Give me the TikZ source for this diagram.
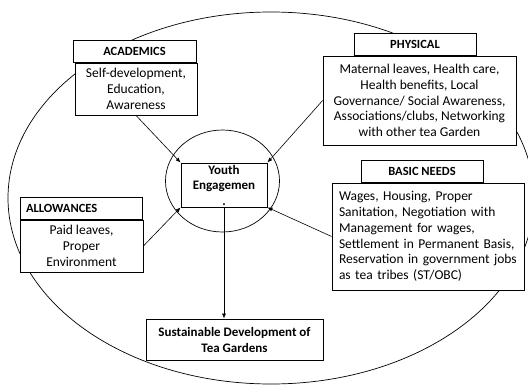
\documentclass[tikz,border=0pt]{standalone}
\usepackage{fontspec}
\setmainfont{Carlito}
\usetikzlibrary{arrows.meta}

\begin{document}
\begin{tikzpicture}[x=1pt, y=-1pt, >={Latex[length=5pt,width=4pt]},
  font=\fontsize{13.5}{15.8}\selectfont,
  headbox/.style={draw, fill=white, line width=0.8pt, minimum height=22pt, inner sep=2pt, font=\fontsize{12.5}{14}\selectfont\bfseries},
  bodybox/.style={draw, fill=white, line width=0.8pt, inner sep=3pt}]

\clip (0,0) rectangle (528,385);
\fill[white] (0,0) rectangle (528,385);

% outer ellipse round everything
\draw[line width=0.7pt] (271,198) ellipse [x radius=263, y radius=186];

% centre: youth engagement
\draw[line width=0.7pt] (222.5,181) ellipse [x radius=57, y radius=51];
\node[draw, fill=white, line width=0.8pt, minimum width=86pt, minimum height=44pt, inner sep=1pt, align=center, font=\fontsize{13}{15.5}\selectfont\bfseries] (youth) at (224,185) {Youth\\Engagemen\\.};

% academics, top left
\node[headbox, minimum width=123pt] (acahead) at (134.5,51) {ACADEMICS};
\node[bodybox, minimum width=122pt, minimum height=52pt, align=center] (acabody) at (136,89) {Self-development,\\Education,\\Awareness};

% physical, top right
\node[headbox, minimum width=122pt] (phyhead) at (415,44) {PHYSICAL};
\node[bodybox, minimum width=193pt, minimum height=89pt, align=center] (phybody) at (419.5,100.5) {Maternal leaves, Health care,\\Health benefits, Local\\Governance/ Social Awareness,\\Associations/clubs, Networking\\with other tea Garden};

% basic needs, right
\node[headbox, minimum width=122pt] (basichead) at (422,171) {BASIC NEEDS};
\node[bodybox, minimum width=192pt, minimum height=107pt, text width=178pt, inner xsep=7pt, align=left] (basicbody) at (428,236.5) {Wages, Housing, Proper\\Sanitation, Negotiation with\\Management for wages,\\Settlement in Permanent Basis,\\Reservation in government jobs\\as tea tribes (ST/OBC)};

% allowances, left
\node[headbox, minimum width=122pt, text width=110pt, align=left] (allowhead) at (81,208) {ALLOWANCES};
\node[bodybox, minimum width=123pt, minimum height=52pt, align=center] (allowbody) at (81.5,246) {Paid leaves,\\Proper\\Environment};

% outcome, bottom
\node[draw, fill=white, line width=0.8pt, minimum width=177pt, minimum height=41pt, inner sep=2pt, align=center, font=\fontsize{13}{16}\selectfont\bfseries] (sust) at (234.5,339.5) {Sustainable Development of\\Tea Gardens};

% arrows into the centre and out to the outcome
\draw[->, line width=0.6pt] (acabody.south) -- (youth.north west);
\draw[->, line width=0.6pt] (phybody.west) -- (youth.north east);
\draw[->, line width=0.6pt] (basicbody.west) -- (youth.south east);
\draw[->, line width=0.6pt] (allowbody.east) -- (youth.south west);
\draw[->, line width=0.6pt] (youth.south) -- (youth.south |- sust.north);

\end{tikzpicture}
\end{document}
